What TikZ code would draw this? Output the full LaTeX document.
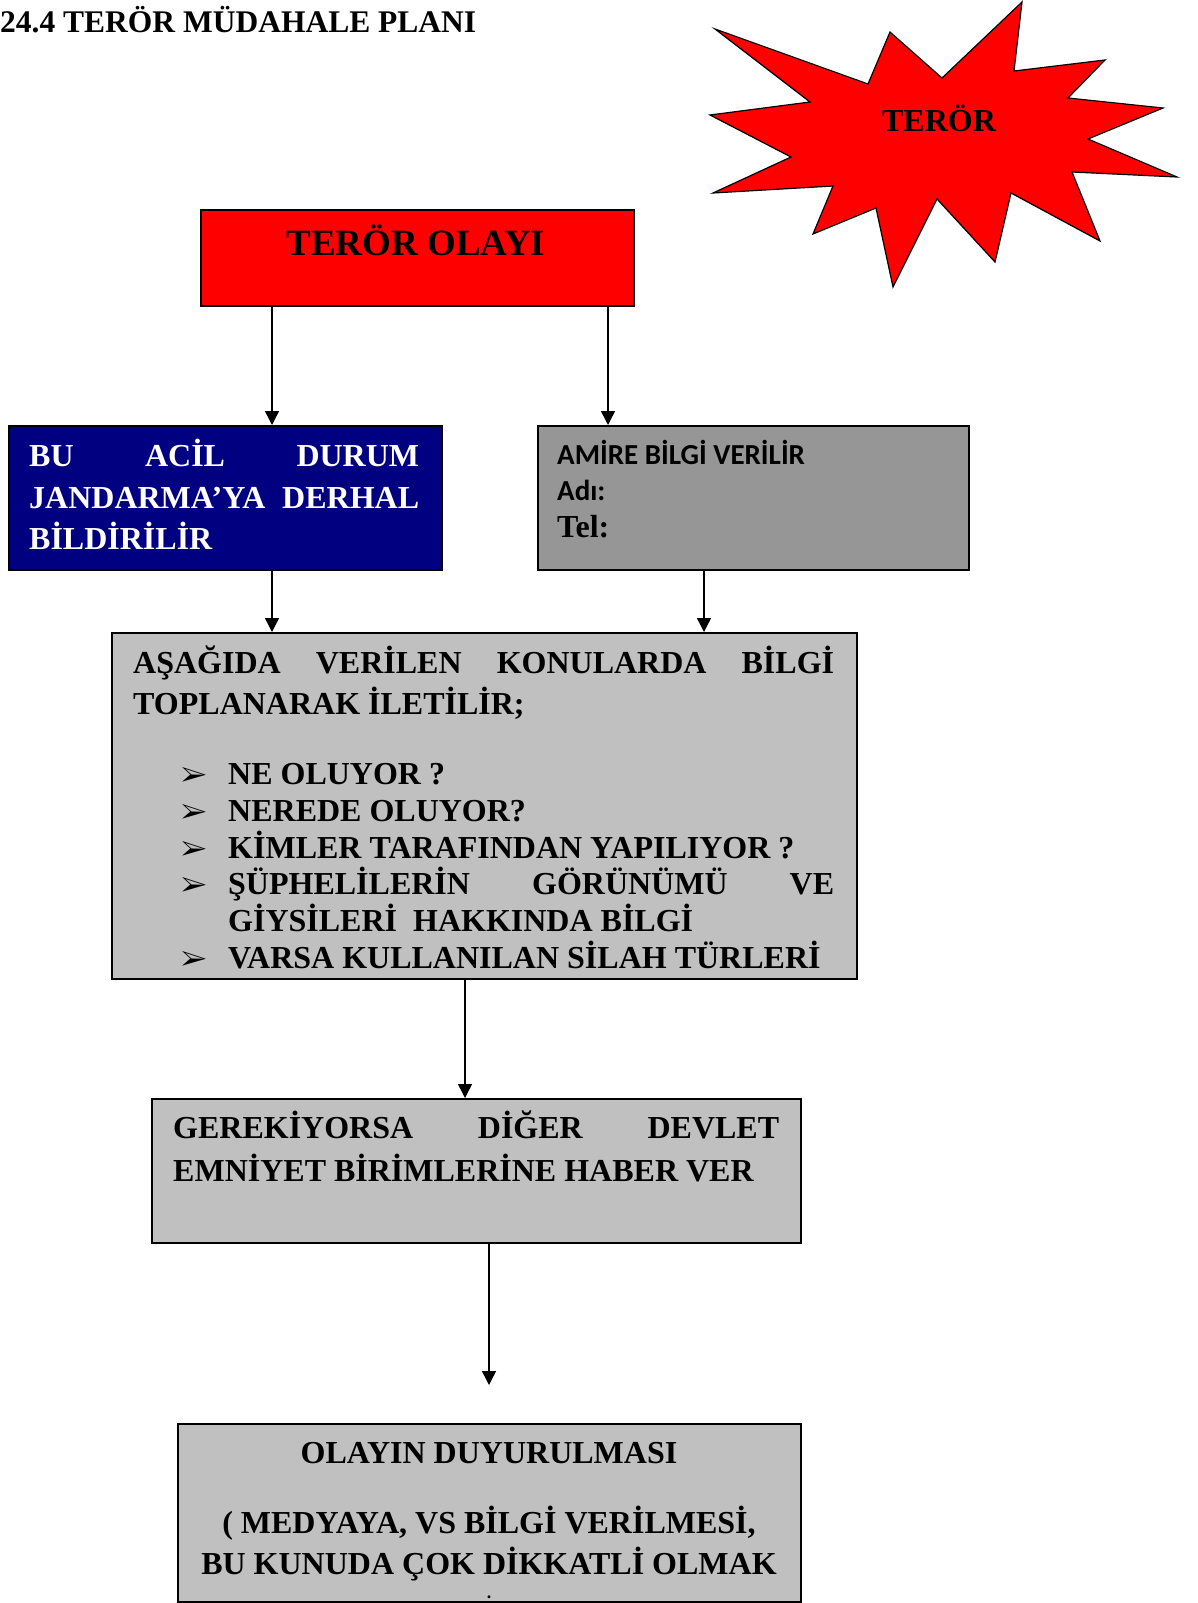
\documentclass[tikz,border=0pt]{standalone}
\usepackage{fontspec}
\usepackage{pifont}
\usepackage{tikz}
\usetikzlibrary{arrows.meta}
\setmainfont{Liberation Serif}
\newfontfamily\calibrifont{Carlito}
\definecolor{navyblue}{RGB}{0,0,128}
\definecolor{amirgray}{RGB}{150,150,150}
\definecolor{silvergray}{RGB}{192,192,192}

\begin{document}
\begin{tikzpicture}[x=1pt, y=-1pt,
		box/.style={draw=black, line width=1.6pt, anchor=north west, inner sep=0pt},
		txt/.style={anchor=base west, inner sep=0pt, font=\fontsize{32}{38}\selectfont\bfseries},
		ctxt/.style={txt, anchor=base},
		bulletmark/.style={txt, font=\fontsize{28}{30}\selectfont},
		arr/.style={-{Triangle[length=14pt, width=14pt]}, line width=1.4pt}]
\useasboundingbox (0,0) rectangle (1198,1603);

\node[txt, font=\fontsize{31.5}{38}\selectfont\bfseries] (title) at (0,33) {24.4 TERÖR MÜDAHALE PLANI};

% star
\draw[fill=red, line width=1.2pt] (715,29) -- (868,84) -- (890,32) -- (942,78) -- (1022,2) -- (1014,71)
	-- (1105,60) -- (1068,98) -- (1163,108) -- (1088,139) -- (1177,177) -- (1072,172) -- (1100,241)
	-- (1011,193) -- (995,262) -- (937,199) -- (893,287) -- (876,208) -- (813,234) -- (833,186)
	-- (713,193) -- (791,157) -- (710,115) -- (810,102) -- cycle;
\node[ctxt] (starlabel) at (939,131) {TERÖR};

% boxes
\node[box, fill=red, minimum width=433pt, minimum height=96pt] (olay) at (200,209) {};
\node[box, fill=navyblue, minimum width=433pt, minimum height=144pt] (jandarma) at (8,425) {};
\node[box, fill=amirgray, minimum width=431pt, minimum height=144pt] (amir) at (537,425) {};
\node[box, fill=silvergray, minimum width=745pt, minimum height=346pt] (bilgi) at (111,632) {};
\node[box, fill=silvergray, minimum width=649pt, minimum height=144pt] (haber) at (151,1098) {};
\node[box, fill=silvergray, minimum width=623pt, minimum height=178pt] (duyuru) at (177,1423) {};

% texts
\node[ctxt, font=\fontsize{37}{44}\selectfont\bfseries] (olaytext) at (416,255) {TERÖR OLAYI};

\node[txt, white] (j1) at (29,466) {\hbox to 390pt{BU\hfill ACİL\hfill DURUM}};
\node[txt, white] (j2) at (29,508) {\hbox to 390pt{JANDARMA’YA\hfill DERHAL}};
\node[txt, white] (j3) at (29,549) {BİLDİRİLİR};

\node[txt, font=\fontsize{29}{34}\calibrifont\bfseries] (a1) at (557,464) {AMİRE BİLGİ VERİLİR};
\node[txt, font=\fontsize{29}{34}\calibrifont\bfseries] (a2) at (557,500) {Adı:};
\node[txt] (a3) at (557,537) {Tel:};

\node[txt] (b1) at (133,673) {\hbox to 701pt{AŞAĞIDA\hfill VERİLEN\hfill KONULARDA\hfill BİLGİ}};
\node[txt] (b2) at (133,714) {TOPLANARAK İLETİLİR;};
\node[bulletmark] (m1) at (181,784) {\ding{226}};
\node[txt] (b3) at (228,784) {NE OLUYOR ?};
\node[bulletmark] (m2) at (181,821) {\ding{226}};
\node[txt] (b4) at (228,821) {NEREDE OLUYOR?};
\node[bulletmark] (m3) at (181,858) {\ding{226}};
\node[txt] (b5) at (228,858) {KİMLER TARAFINDAN YAPILIYOR ?};
\node[bulletmark] (m4) at (181,894) {\ding{226}};
\node[txt] (b6) at (228,894) {\hbox to 606pt{ŞÜPHELİLERİN\hfill GÖRÜNÜMÜ\hfill VE}};
\node[txt] (b7) at (228,931) {GİYSİLERİ\ \ HAKKINDA BİLGİ};
\node[bulletmark] (m5) at (181,968) {\ding{226}};
\node[txt] (b8) at (228,968) {VARSA KULLANILAN SİLAH TÜRLERİ};

\node[txt] (h1) at (173,1138) {\hbox to 606pt{GEREKİYORSA\hfill DİĞER\hfill DEVLET}};
\node[txt] (h2) at (173,1181) {EMNİYET BİRİMLERİNE HABER VER};

\node[ctxt] (d1) at (489,1463) {OLAYIN DUYURULMASI};
\node[ctxt] (d2) at (489,1533) {( MEDYAYA, VS BİLGİ VERİLMESİ,};
\node[ctxt] (d3) at (489,1574) {BU KUNUDA ÇOK DİKKATLİ OLMAK};
\node[ctxt, font=\fontsize{18}{20}\selectfont\bfseries] (d4) at (489,1598) {.};

% connectors
\coordinate (x1) at (272,0);
\coordinate (x2) at (608,0);
\coordinate (x3) at (704,0);
\coordinate (x4) at (465,0);
\coordinate (x5) at (489,0);
\coordinate (free) at (489,1385);
\draw[arr] (x1 |- olay.south) -- (x1 |- jandarma.north);
\draw[arr] (x2 |- olay.south) -- (x2 |- amir.north);
\draw[arr] (x1 |- jandarma.south) -- (x1 |- bilgi.north);
\draw[arr] (x3 |- amir.south) -- (x3 |- bilgi.north);
\draw[arr] (x4 |- bilgi.south) -- (x4 |- haber.north);
\draw[arr] (x5 |- haber.south) -- (free);
\end{tikzpicture}
\end{document}
